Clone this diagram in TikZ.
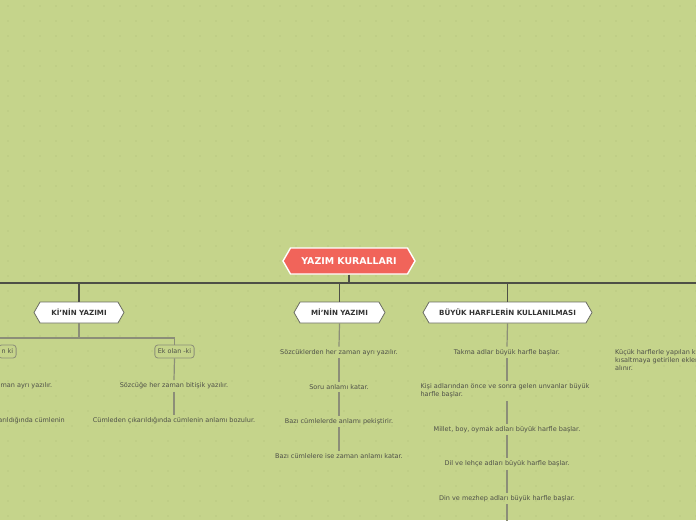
\documentclass[tikz,border=0pt]{standalone}
\usepackage{fontspec}
\setmainfont{DejaVu Sans}
\usetikzlibrary{shapes.symbols}
\definecolor{bg}{HTML}{C5D48B}
\definecolor{dotc}{HTML}{B9C981}
\definecolor{rootred}{HTML}{F1645A}
\definecolor{mainline}{HTML}{4E5046}
\definecolor{subline}{HTML}{8C8E78}
\definecolor{txt}{HTML}{4E5048}
\definecolor{hdrtxt}{HTML}{333333}
\definecolor{hdrline}{HTML}{6A6C62}
\tikzset{
  rootbox/.style={signal, signal to=west and east, signal pointer angle=120,
    fill=rootred, draw=white, line width=1.4pt, text=white,
    font=\bfseries\fontsize{9.4}{11}\selectfont,
    minimum width=132, minimum height=26, inner sep=0},
  hdrbox/.style={signal, signal to=west and east, signal pointer angle=120,
    fill=white, draw=hdrline, line width=0.8pt, text=hdrtxt,
    font=\bfseries\fontsize{7.1}{8}\selectfont,
    minimum height=21, inner sep=0},
  subbox/.style={draw=subline, line width=0.8pt, rounded corners=3pt, fill=bg,
    text=txt, font=\fontsize{6.4}{7}\selectfont, minimum height=13, inner xsep=3pt, inner ysep=0},
  item/.style={text=txt, font=\fontsize{6.5}{8}\selectfont, inner sep=2.5pt},
  mainconn/.style={draw=mainline, line width=1.3pt},
  subconn/.style={draw=subline, line width=1.2pt},
}
\begin{document}
\begin{tikzpicture}[x=1pt,y=-1pt]
\useasboundingbox (0,0) rectangle (696,520);
\clip (0,0) rectangle (696,520);
\fill[bg] (0,0) rectangle (696,520);
\foreach \i in {0,...,43} \foreach \j in {0,...,34} \fill[dotc] (8+16*\i, 6+15*\j) circle (0.9);

% main level
\node[rootbox] (root) at (349,261) {YAZIM KURALLARI};
\coordinate (hl) at (0,283);
\coordinate (hr) at (696,283);
\coordinate (j0) at (349,283);
\node[hdrbox, minimum width=90] (k) at (79,312.5) {Kİ'NİN YAZIMI};
\node[hdrbox, minimum width=91] (m) at (339.5,312.5) {Mİ'NİN YAZIMI};
\node[hdrbox, minimum width=169] (b) at (507.5,312.5) {BÜYÜK HARFLERİN KULLANILMASI};

\draw[mainconn] (root.south) -- (j0);
\draw[mainconn] (hl) -- (hr);
\draw[mainconn] (k.north |- hl) -- (k.north);
\draw[mainconn] (m.north |- hl) -- (m.north);
\draw[mainconn] (b.north |- hl) -- (b.north);

% KI'NIN column
\coordinate (kl) at (0,338);
\coordinate (kj) at (79,338);
\node[subbox] (ek) at (174.5,351.5) {Ek olan -ki};
\node[subbox, anchor=east] (bk) at (16.5,351.5) {n ki};
\draw[subconn] (k.south) -- (kj);
\draw[subconn] (kl) -- (kl -| ek.north) -- (ek.north);

\node[item] (e1) at (174,386) {Sözcüğe her zaman bitişik yazılır.};
\node[item] (e2) at (174,421) {Cümleden çıkarıldığında cümlenin anlamı bozulur.};
\draw[subconn] (ek.south) -- (e1.north);
\draw[subconn] (e1.south) -- (e2.north);

\node[item, anchor=east] (l1) at (55,386) {man ayrı yazılır.};
\node[item, anchor=east] (l2) at (67.5,421) {arıldığında cümlenin};

% MI'NIN column
\node[item] (m1) at (339,352.5) {Sözcüklerden her zaman ayrı yazılır.};
\node[item] (m2) at (339,387) {Soru anlamı katar.};
\node[item] (m3) at (339,421.5) {Bazı cümlelerde anlamı pekiştirir.};
\node[item] (m4) at (339,456) {Bazı cümlelere ise zaman anlamı katar.};
\draw[subconn] (m.south) -- (m1.north);
\draw[subconn] (m1.south) -- (m2.north);
\draw[subconn] (m2.south) -- (m3.north);
\draw[subconn] (m3.south) -- (m4.north);

% BUYUK column
\node[item, align=left] (b1) at (507,352.5) {Takma adlar büyük harfle başlar.};
\node[item, align=left] (b2) at (505,391) {Kişi adlarından önce ve sonra gelen unvanlar büyük\\harfle başlar.};
\node[item] (b3) at (507,429.5) {Millet, boy, oymak adları büyük harfle başlar.};
\node[item] (b4) at (507,464) {Dil ve lehçe adları büyük harfle başlar.};
\node[item] (b5) at (507,498.5) {Din ve mezhep adları büyük harfle başlar.};
\coordinate (bend) at (507,522);
\draw[subconn] (b.south) -- (b1.north);
\draw[subconn] (b1.south) -- (b1.south |- b2.north);
\draw[subconn] (b1.south |- b2.south) -- (b3.north);
\draw[subconn] (b3.south) -- (b4.north);
\draw[subconn] (b4.south) -- (b5.north);
\draw[subconn] (b5.south) -- (bend);

% right column
\node[item, anchor=north west, align=left] (r1) at (612.5,346.5) {Küçük harflerle yapılan k\\kısaltmaya getirilen ekler\\alınır.};
\end{tikzpicture}
\end{document}
